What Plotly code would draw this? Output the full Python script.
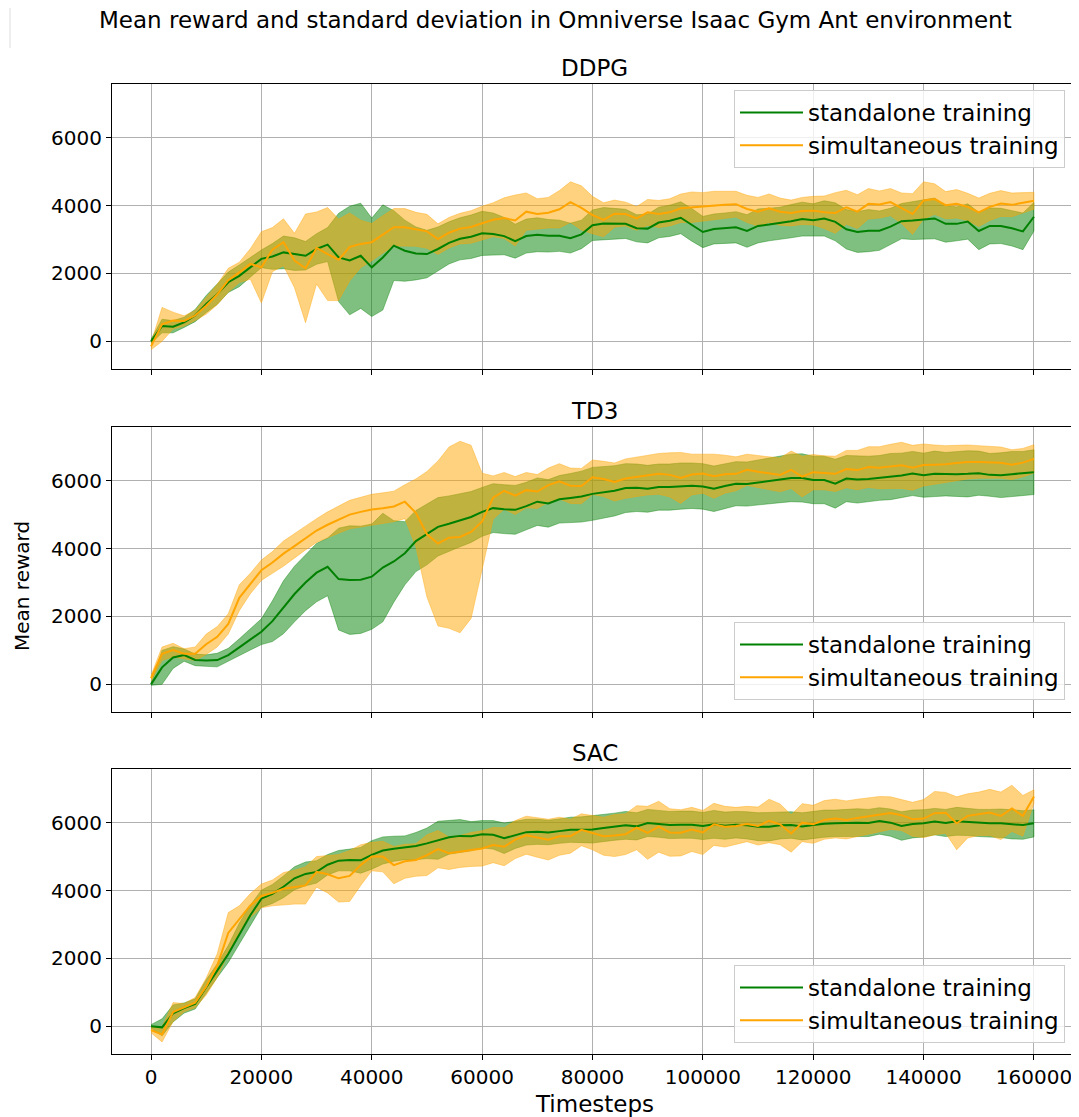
import plotly.graph_objects as go
import numpy as np

# ---------------- data ----------------
TIMESTEPS = list(range(0, 160001, 2000))
X_TICKS = [0, 20000, 40000, 60000, 80000, 100000, 120000, 140000, 160000]
X_TICK_LABELS = ["0", "20000", "40000", "60000", "80000", "100000", "120000", "140000", "160000"]
Y_TICKS = [0, 2000, 4000, 6000]
Y_TICK_LABELS = ["0", "2000", "4000", "6000"]
ALGORITHMS = ["DDPG", "TD3", "SAC"]
SERIES_NAMES = ["standalone training", "simultaneous training"]

ddpg_standalone_mean = [
    0, 450, 430, 560, 760, 1100, 1390, 1740, 1930, 2180,
    2430, 2500, 2620, 2570, 2520, 2720, 2850, 2470, 2380, 2520,
    2180, 2470, 2820, 2670, 2590, 2570, 2720, 2900, 3020, 3080,
    3180, 3160, 3100, 2950, 3100, 3140, 3110, 3110, 3040, 3150,
    3420, 3470, 3460, 3460, 3330, 3320, 3500, 3550, 3640, 3430,
    3220, 3310, 3330, 3360, 3250, 3400, 3440, 3480, 3540, 3600,
    3570, 3620, 3520, 3300, 3220, 3260, 3260, 3380, 3540, 3560,
    3580, 3620, 3460, 3460, 3530, 3250, 3400, 3400, 3330, 3240,
    3670]
ddpg_standalone_std = [
    60, 200, 180, 150, 180, 250, 300, 300, 320, 300,
    260, 380, 480, 480, 420, 450, 500, 1300, 1600, 1550,
    1450, 1550, 1030, 900, 780, 700, 650, 620, 620, 640,
    650, 620, 550, 500, 500, 500, 480, 460, 440, 420,
    450, 470, 450, 430, 400, 420, 450, 460, 470, 480,
    460, 440, 450, 460, 480, 500, 480, 470, 490, 500,
    480, 520, 560, 580, 600, 620, 580, 540, 520, 560,
    580, 600, 540, 500, 520, 550, 530, 520, 520, 540,
    420]
ddpg_simultaneous_mean = [
    -150, 500, 610, 600, 760, 1050, 1380, 1800, 2030, 2280,
    2180, 2700, 2920, 2380, 2150, 2750, 2570, 2400, 2780, 2870,
    2920, 3150, 3360, 3360, 3300, 3240, 3010, 3200, 3320, 3370,
    3480, 3580, 3630, 3560, 3820, 3750, 3790, 3890, 4100, 3930,
    3720, 3580, 3760, 3750, 3620, 3800, 3750, 3800, 3920, 3950,
    3960, 3990, 4020, 4040, 3900, 3820, 3920, 3820, 3780, 3840,
    3850, 3800, 3780, 3950, 3820, 4050, 4030, 4100, 3920, 3750,
    4150, 4190, 4010, 4050, 3960, 3800, 3960, 4060, 4020, 4080,
    4140]
ddpg_simultaneous_std = [
    100, 500, 250, 150, 150, 250, 300, 350, 300, 450,
    1050, 650, 690, 800, 1600, 1060, 1370, 1200, 1000, 700,
    550, 550, 550, 550, 500, 500, 450, 450, 450, 480,
    500, 500, 600, 750, 550, 450, 450, 550, 600, 650,
    550, 500, 400, 350, 350, 380, 400, 400, 420, 450,
    420, 430, 400, 380, 400, 420, 420, 400, 380, 400,
    420, 480, 600, 500, 500, 450, 400, 400, 450, 600,
    550, 450, 400, 420, 400, 420, 400, 380, 350, 300,
    250]

td3_standalone_mean = [
    0, 500, 790, 860, 720, 700, 715, 860, 1090, 1330,
    1550, 1860, 2270, 2660, 3000, 3290, 3460, 3100, 3070, 3080,
    3170, 3440, 3620, 3860, 4220, 4420, 4640, 4730, 4830, 4930,
    5080, 5190, 5160, 5140, 5250, 5380, 5330, 5450, 5490, 5530,
    5610, 5650, 5700, 5780, 5790, 5760, 5810, 5810, 5840, 5850,
    5830, 5760, 5840, 5910, 5900, 5950, 6000, 6040, 6080, 6080,
    6020, 6020, 5910, 6060, 6030, 6050, 6080, 6120, 6150, 6210,
    6160, 6200, 6190, 6190, 6200, 6220, 6170, 6160, 6190, 6210,
    6250]
td3_standalone_std = [
    30, 500, 320, 180, 170, 170, 200, 200, 250, 320,
    380, 600, 780, 820, 830, 860, 850, 1500, 1600, 1580,
    1550, 1600, 1200, 930, 900, 900, 860, 820, 780, 750,
    720, 720, 720, 720, 700, 700, 700, 700, 720, 750,
    780, 760, 740, 720, 700, 690, 680, 680, 680, 670,
    670, 670, 660, 650, 650, 660, 680, 690, 700, 710,
    700, 700, 720, 680, 690, 670, 660, 680, 660, 650,
    650, 670, 640, 660, 680, 650, 630, 660, 670, 650,
    660]
td3_simultaneous_mean = [
    180, 900, 1010, 900, 900, 1180, 1400, 1780, 2550, 2970,
    3360, 3590, 3850, 4070, 4310, 4530, 4700, 4850, 5000, 5080,
    5150, 5190, 5240, 5380, 5050, 4420, 4150, 4320, 4340, 4490,
    4800, 5500, 5700, 5560, 5720, 5680, 5870, 5980, 5850, 5840,
    6100, 6050, 5960, 6060, 6110, 6160, 6200, 6170, 6080, 6180,
    6210, 6130, 6190, 6200, 6320, 6260, 6220, 6170, 6320, 6120,
    6250, 6230, 6200, 6340, 6310, 6400, 6380, 6420, 6450, 6380,
    6460, 6470, 6480, 6520, 6550, 6550, 6550, 6530, 6470, 6530,
    6640]
td3_simultaneous_std = [
    80, 200, 200, 150, 200, 300, 300, 300, 380, 300,
    300, 320, 370, 360, 350, 350, 380, 400, 420, 430,
    450, 450, 450, 500, 1000, 1850, 2430, 2670, 2820, 2550,
    1420, 640, 540, 560, 520, 500, 500, 520, 520, 520,
    510, 520, 560, 580, 580, 580, 600, 650, 750, 600,
    580, 650, 560, 500, 460, 470, 480, 500, 550, 600,
    520, 500, 520, 550, 580, 600, 620, 650, 680, 660,
    620, 580, 550, 520, 500, 480, 470, 460, 440, 420,
    420]

sac_standalone_mean = [
    0, -30, 380, 540, 660, 1170, 1640, 2130, 2720, 3270,
    3760, 3900, 4110, 4360, 4490, 4550, 4760, 4880, 4900, 4890,
    5050, 5180, 5230, 5260, 5310, 5390, 5480, 5570, 5610, 5600,
    5660, 5640, 5540, 5640, 5720, 5730, 5710, 5750, 5790, 5790,
    5800, 5840, 5880, 5920, 5890, 5990, 5960, 5930, 5940, 5940,
    5900, 5950, 5910, 5940, 5920, 5880, 5880, 5920, 5930, 5890,
    5930, 5970, 5980, 6000, 6000, 5990, 6050, 6000, 5900, 5960,
    5980, 6030, 5990, 6040, 6020, 5990, 5980, 5980, 5950, 5930,
    5980]
sac_standalone_std = [
    50, 250, 250, 150, 150, 200, 200, 250, 320, 300,
    250, 280, 320, 340, 350, 330, 300, 300, 320, 380,
    420, 400, 370, 350, 400, 450, 560, 500, 480, 430,
    400, 420, 450, 400, 380, 370, 360, 360, 370, 380,
    400, 400, 400, 410, 400, 400, 390, 400, 400, 400,
    400, 410, 400, 390, 400, 410, 420, 400, 390, 400,
    410, 400, 390, 400, 410, 400, 390, 400, 420, 410,
    400, 390, 400, 410, 400, 400, 410, 420, 430, 420,
    400]
sac_simultaneous_mean = [
    -110, -240, 420, 550, 700, 1170, 1790, 2750, 3150, 3560,
    3840, 3930, 4050, 4100, 4150, 4550, 4480, 4360, 4430, 4750,
    5000, 5000, 4750, 4860, 4900, 5040, 5220, 5100, 5150, 5210,
    5240, 5340, 5290, 5500, 5630, 5560, 5500, 5600, 5600, 5790,
    5700, 5600, 5620, 5660, 5850, 5700, 5880, 5710, 5700, 5800,
    5710, 5950, 5880, 5900, 5960, 5900, 6050, 5950, 5680, 6000,
    5950, 6080, 6120, 6080, 6140, 6190, 6250, 6280, 6220, 6100,
    6120, 6280, 6290, 5980, 6200, 6260, 6300, 6200, 6420, 6200,
    6770]
sac_simultaneous_std = [
    80, 220, 280, 120, 150, 250, 350, 600, 400, 350,
    350, 380, 480, 500, 550, 450, 550, 700, 750, 600,
    420, 450, 550, 500, 480, 600, 550, 480, 470, 500,
    520, 520, 560, 560, 560, 580, 600, 560, 500, 470,
    500, 560, 620, 600, 650, 780, 750, 700, 680, 650,
    650, 620, 600, 550, 520, 560, 640, 600, 550, 560,
    560, 570, 570, 560, 550, 550, 520, 480, 450, 500,
    560, 640, 600, 780, 650, 640, 680, 700, 680, 600,
    200]

# ---------------- styling ----------------
FONT = "DejaVu Sans"
LINE_COLORS = ["#008000", "#FFA500"]
FILL_COLORS = ["rgba(0,128,0,0.5)", "rgba(255,165,0,0.5)"]

PAGE_W, PAGE_H = 1079, 1117
BODY_OFF = 8                      # default body margin of the html page
FW, FH = PAGE_W - BODY_OFF, PAGE_H - BODY_OFF
PLOT_L, PLOT_R, PLOT_T, PLOT_B = 112, 1077, 84, 1054   # plot area in page px
ML = PLOT_L - BODY_OFF
MR = PAGE_W - PLOT_R
MT = PLOT_T - BODY_OFF
MB = PAGE_H - PLOT_B
PW = PLOT_R - PLOT_L
PH = PLOT_B - PLOT_T


def py(p):
    """page pixel y -> paper coordinate"""
    return (PLOT_B - p) / PH


def px(p):
    """page pixel x -> paper coordinate"""
    return (p - PLOT_L) / PW


DOMAINS = [[py(369), py(84)], [py(712), py(427)], [py(1054), py(769)]]
TITLE_Y = [py(68), py(411), py(753)]
LEGEND_POS = [
    dict(y=py(90), yanchor="top"),
    dict(y=py(700), yanchor="bottom"),
    dict(y=py(1043), yanchor="bottom"),
]

data = [
    [(ddpg_standalone_mean, ddpg_standalone_std), (ddpg_simultaneous_mean, ddpg_simultaneous_std)],
    [(td3_standalone_mean, td3_standalone_std), (td3_simultaneous_mean, td3_simultaneous_std)],
    [(sac_standalone_mean, sac_standalone_std), (sac_simultaneous_mean, sac_simultaneous_std)],
]

fig = go.Figure()
x = np.array(TIMESTEPS)

for i, pair in enumerate(data):
    xa = "x" if i == 0 else f"x{i + 1}"
    ya = "y" if i == 0 else f"y{i + 1}"
    leg = "legend" if i == 0 else f"legend{i + 1}"
    for j, (m, s) in enumerate(pair):
        m = np.array(m, dtype=float)
        s = np.array(s, dtype=float)
        up = m + s
        lo = m - s
        fig.add_trace(go.Scatter(
            x=np.concatenate([x, x[::-1]]),
            y=np.concatenate([up, lo[::-1]]),
            fill="toself", fillcolor=FILL_COLORS[j],
            line=dict(color=FILL_COLORS[j], width=0.8),
            mode="lines", hoverinfo="skip", showlegend=False,
            xaxis=xa, yaxis=ya))
    for j, (m, s) in enumerate(pair):
        fig.add_trace(go.Scatter(
            x=TIMESTEPS, y=m, mode="lines",
            line=dict(color=LINE_COLORS[j], width=2),
            name=SERIES_NAMES[j], legend=leg,
            xaxis=xa, yaxis=ya))

axis_common = dict(
    showline=True, linecolor="black", linewidth=1, mirror=True,
    ticks="outside", ticklen=5, tickwidth=1, tickcolor="black",
    showgrid=True, gridcolor="#b0b0b0", gridwidth=0.8,
    zeroline=False, tickfont=dict(family=FONT, size=20, color="black"),
)

layout = dict(
    width=FW, height=FH,
    margin=dict(l=ML, r=MR, t=MT, b=MB),
    paper_bgcolor="white", plot_bgcolor="white",
    font=dict(family=FONT, size=20, color="black"),
)

for i in range(3):
    sx = "" if i == 0 else str(i + 1)
    layout[f"xaxis{sx}"] = dict(
        axis_common, range=[-7070, 167800], tickvals=X_TICKS, ticktext=X_TICK_LABELS,
        showticklabels=(i == 2), anchor=f"y{sx}", domain=[0, 1],
        **({} if i == 0 else {"matches": "x"}))
    layout[f"yaxis{sx}"] = dict(
        axis_common, range=[-815, 7580], tickvals=Y_TICKS, ticktext=Y_TICK_LABELS,
        anchor=f"x{sx}", domain=DOMAINS[i])
    layout["legend" if i == 0 else f"legend{i + 1}"] = dict(
        x=px(1065), xanchor="right",
        bgcolor="rgba(255,255,255,0.8)", bordercolor="#cccccc", borderwidth=1,
        font=dict(family=FONT, size=23, color="black"),
        itemwidth=63, tracegroupgap=0,
        **LEGEND_POS[i])

annotations = []
for i, name in enumerate(ALGORITHMS):
    annotations.append(dict(
        text=name, x=0.5, y=TITLE_Y[i], xref="paper", yref="paper",
        xanchor="center", yanchor="middle", showarrow=False,
        font=dict(family=FONT, size=23, color="black")))
annotations.append(dict(
    text="Mean reward and standard deviation in Omniverse Isaac Gym Ant environment",
    x=px(555), y=py(20), xref="paper", yref="paper",
    xanchor="center", yanchor="middle", showarrow=False,
    font=dict(family=FONT, size=23, color="black")))
annotations.append(dict(
    text="Mean reward", x=px(22), y=py(586), xref="paper", yref="paper",
    xanchor="center", yanchor="middle", showarrow=False, textangle=-90,
    font=dict(family=FONT, size=20, color="black")))
annotations.append(dict(
    text="Timesteps", x=0.5, y=py(1104), xref="paper", yref="paper",
    xanchor="center", yanchor="middle", showarrow=False,
    font=dict(family=FONT, size=23, color="black")))
layout["annotations"] = annotations

# faint vertical edge line visible at the top-left of the original image
layout["shapes"] = [dict(
    type="line", xref="paper", yref="paper",
    x0=px(10), x1=px(10), y0=py(0), y1=py(48),
    line=dict(color="#dddddd", width=1))]

fig.update_layout(**layout)
fig.write_html("out.html")
